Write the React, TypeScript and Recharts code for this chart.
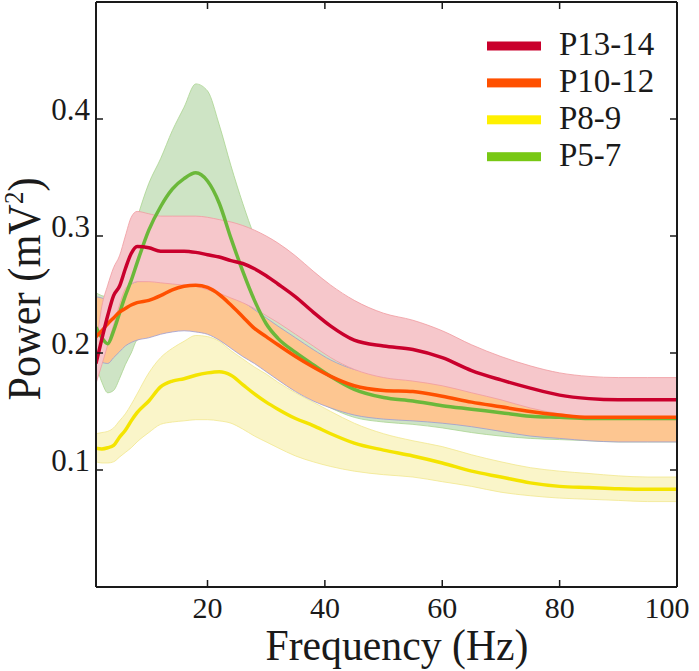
import { Area, ComposedChart, Line, XAxis, YAxis } from "recharts"

const freq = [1, 2, 3, 4, 5, 6, 7, 8, 10, 12, 14, 16, 18, 20, 22, 24, 26, 28, 30, 32, 35, 38, 41, 45, 50, 55, 60, 65, 70, 75, 80, 85, 90, 95, 100]

// P13-14
const p13Mean = [0.191, 0.212, 0.232, 0.249, 0.257, 0.272, 0.285, 0.291, 0.29, 0.287, 0.287, 0.287, 0.286, 0.284, 0.282, 0.279, 0.2765, 0.272, 0.266, 0.259, 0.248, 0.235, 0.223, 0.211, 0.206, 0.203, 0.196, 0.185, 0.177, 0.17, 0.164, 0.161, 0.16, 0.16, 0.16]
const p13Upper = [0.205, 0.24, 0.258, 0.273, 0.283, 0.3, 0.316, 0.321, 0.319, 0.317, 0.317, 0.317, 0.317, 0.316, 0.314, 0.312, 0.309, 0.305, 0.3, 0.294, 0.283, 0.27, 0.258, 0.245, 0.234, 0.228, 0.219, 0.207, 0.197, 0.189, 0.183, 0.18, 0.179, 0.179, 0.179]
const p13Lower = [0.174, 0.19, 0.207, 0.224, 0.241, 0.255, 0.259, 0.261, 0.261, 0.26, 0.259, 0.258, 0.257, 0.254, 0.251, 0.247, 0.243, 0.238, 0.232, 0.226, 0.216, 0.206, 0.196, 0.186, 0.179, 0.176, 0.172, 0.166, 0.16, 0.153, 0.148, 0.145, 0.144, 0.143, 0.143]

// P10-12
const p10Mean = [0.214, 0.219, 0.225, 0.23, 0.235, 0.238, 0.241, 0.243, 0.245, 0.249, 0.254, 0.257, 0.258, 0.256, 0.25, 0.241, 0.231, 0.221, 0.214, 0.207, 0.197, 0.188, 0.18, 0.172, 0.168, 0.167, 0.163, 0.158, 0.154, 0.15, 0.147, 0.145, 0.145, 0.145, 0.145]
const p10Upper = [0.248, 0.247, 0.245, 0.248, 0.252, 0.256, 0.259, 0.261, 0.262, 0.263, 0.263, 0.263, 0.262, 0.259, 0.255, 0.25, 0.244, 0.237, 0.23, 0.223, 0.213, 0.203, 0.194, 0.186, 0.182, 0.18, 0.177, 0.172, 0.168, 0.165, 0.163, 0.162, 0.162, 0.162, 0.162]
const p10Lower = [0.194, 0.192, 0.191, 0.196, 0.201, 0.206, 0.209, 0.211, 0.213, 0.216, 0.218, 0.219, 0.218, 0.216, 0.211, 0.204, 0.197, 0.191, 0.184, 0.177, 0.167, 0.159, 0.153, 0.147, 0.1435, 0.142, 0.14, 0.137, 0.133, 0.129, 0.127, 0.125, 0.124, 0.124, 0.124]

// P8-9
const p8Mean = [0.1185, 0.118, 0.119, 0.121, 0.128, 0.134, 0.142, 0.149, 0.159, 0.171, 0.176, 0.178, 0.181, 0.183, 0.184, 0.181, 0.173, 0.165, 0.158, 0.152, 0.144, 0.138, 0.131, 0.123, 0.117, 0.112, 0.106, 0.099, 0.094, 0.089, 0.086, 0.085, 0.084, 0.0835, 0.0835]
const p8Upper = [0.131, 0.132, 0.133, 0.136, 0.142, 0.148, 0.156, 0.165, 0.183, 0.196, 0.204, 0.21, 0.215, 0.214, 0.21, 0.202, 0.195, 0.188, 0.182, 0.175, 0.166, 0.158, 0.15, 0.14, 0.131, 0.125, 0.12, 0.113, 0.107, 0.102, 0.099, 0.097, 0.095, 0.094, 0.094]
const p8Lower = [0.107, 0.106, 0.106, 0.107, 0.111, 0.115, 0.119, 0.124, 0.132, 0.139, 0.141, 0.142, 0.143, 0.143, 0.142, 0.14, 0.135, 0.129, 0.124, 0.119, 0.112, 0.107, 0.103, 0.099, 0.096, 0.094, 0.09, 0.086, 0.081, 0.078, 0.076, 0.075, 0.074, 0.073, 0.073]

// P5-7
const p5Mean = [0.222, 0.213, 0.208, 0.219, 0.234, 0.249, 0.262, 0.277, 0.305, 0.325, 0.34, 0.349, 0.354, 0.347, 0.328, 0.298, 0.27, 0.245, 0.225, 0.2125, 0.2005, 0.19, 0.18, 0.169, 0.162, 0.159, 0.155, 0.152, 0.149, 0.146, 0.145, 0.144, 0.144, 0.144, 0.144]
const p5Upper = [0.2515, 0.249, 0.248, 0.262, 0.275, 0.286, 0.298, 0.315, 0.345, 0.366, 0.39, 0.41, 0.43, 0.424, 0.395, 0.36, 0.328, 0.3, 0.28, 0.26, 0.24, 0.222, 0.207, 0.193, 0.183, 0.178, 0.172, 0.167, 0.163, 0.16, 0.158, 0.157, 0.157, 0.157, 0.157]
const p5Lower = [0.19, 0.175, 0.166, 0.168, 0.178, 0.19, 0.2, 0.211, 0.215, 0.218, 0.22, 0.221, 0.22, 0.218, 0.213, 0.206, 0.199, 0.193, 0.186, 0.179, 0.169, 0.161, 0.153, 0.145, 0.141, 0.139, 0.136, 0.132, 0.129, 0.127, 0.126, 0.125, 0.124, 0.124, 0.124]

const xTicks = [20, 40, 60, 80, 100]
const yTicks = [0.1, 0.2, 0.3, 0.4]

const data = freq.map((f, i) => ({
  f,
  p13: p13Mean[i],
  p13Band: [p13Lower[i], p13Upper[i]],
  p10: p10Mean[i],
  p10Band: [p10Lower[i], p10Upper[i]],
  p8: p8Mean[i],
  p8Band: [p8Lower[i], p8Upper[i]],
  p5: p5Mean[i],
  p5Band: [p5Lower[i], p5Upper[i]],
}))

const legendItems = [
  { name: "P13-14", color: "#c9002c" },
  { name: "P10-12", color: "#ff5000" },
  { name: "P8-9", color: "#fff000" },
  { name: "P5-7", color: "#78c814" },
]

const serif = "'Liberation Serif', 'Times New Roman', serif"
const ink = "#1a1a1a"

function BottomTick({ x, y, payload }: any) {
  const dx = payload.value === 100 ? -10 : 0
  return (
    <g>
      <line x1={x} x2={x} y1={y} y2={y - 7} stroke={ink} strokeWidth={1.5} />
      <text x={x + dx} y={y + 31} textAnchor="middle" fontSize={30} fontFamily={serif} fill={ink}>
        {payload.value}
      </text>
    </g>
  )
}

function TopTick({ x, y }: any) {
  return <line x1={x} x2={x} y1={y} y2={y + 7} stroke={ink} strokeWidth={1.5} />
}

function LeftTick({ x, y, payload }: any) {
  return (
    <g>
      <line x1={x} x2={x + 7} y1={y} y2={y} stroke={ink} strokeWidth={1.5} />
      <text x={x - 6} y={y + 1} textAnchor="end" fontSize={31} fontFamily={serif} fill={ink}>
        {payload.value.toFixed(1)}
      </text>
    </g>
  )
}

function RightTick({ x, y }: any) {
  return <line x1={x} x2={x - 7} y1={y} y2={y} stroke={ink} strokeWidth={1.5} />
}

const axisLine = { stroke: ink, strokeWidth: 2 }

export default function App() {
  return (
    <div style={{ position: "absolute", left: 0, top: 0, width: 699, height: 671, background: "#fff" }}>
      <ComposedChart width={699} height={671} data={data} margin={{ top: 1, right: 21, bottom: 0, left: 0 }}>
        <XAxis
          dataKey="f"
          type="number"
          domain={[1, 100]}
          ticks={xTicks}
          interval={0}
          height={84}
          tickSize={0}
          tickMargin={0}
          tickLine={false}
          axisLine={axisLine}
          tick={<BottomTick />}
          allowDataOverflow
        />
        <XAxis
          xAxisId="top"
          dataKey="f"
          orientation="top"
          type="number"
          domain={[1, 100]}
          ticks={xTicks}
          interval={0}
          height={1}
          tickSize={0}
          tickMargin={0}
          tickLine={false}
          axisLine={axisLine}
          tick={<TopTick />}
          allowDataOverflow
        />
        <YAxis
          type="number"
          domain={[0, 0.5]}
          ticks={yTicks}
          interval={0}
          width={96}
          tickSize={0}
          tickMargin={0}
          tickLine={false}
          axisLine={axisLine}
          tick={<LeftTick />}
          allowDataOverflow
        />
        <YAxis
          yAxisId="right"
          orientation="right"
          type="number"
          domain={[0, 0.5]}
          ticks={yTicks}
          interval={0}
          width={1}
          tickSize={0}
          tickMargin={0}
          tickLine={false}
          axisLine={axisLine}
          tick={<RightTick />}
          allowDataOverflow
        />

        <Area dataKey="p8Band" type="monotone" fill="#faf5c9" fillOpacity={1} stroke="#f1e78e" strokeWidth={0.8} isAnimationActive={false} />
        <Area dataKey="p5Band" type="monotone" fill="#cee4c5" fillOpacity={1} stroke="#a9d48f" strokeWidth={0.8} isAnimationActive={false} />
        <Area dataKey="p10Band" type="monotone" fill="#fdc691" fillOpacity={1} stroke="#9c9cd2" strokeWidth={0.8} isAnimationActive={false} />
        <Area dataKey="p13Band" type="monotone" fill="#f6c7cb" fillOpacity={1} stroke="#f09aa0" strokeWidth={0.8} isAnimationActive={false} />

        <Line dataKey="p8" xAxisId="top" yAxisId="right" type="monotone" stroke="#f4e400" strokeWidth={3.5} dot={false} isAnimationActive={false} />
        <Line dataKey="p5" type="monotone" stroke="#6bb83a" strokeWidth={3.5} dot={false} isAnimationActive={false} />
        <Line dataKey="p10" type="monotone" stroke="#ff5000" strokeWidth={3.5} dot={false} isAnimationActive={false} />
        <Line dataKey="p13" type="monotone" stroke="#c9002c" strokeWidth={3.5} dot={false} isAnimationActive={false} />
      </ComposedChart>

      <svg width={699} height={671} style={{ position: "absolute", left: 0, top: 0, pointerEvents: "none" }}>
        <text
          x={397}
          y={660}
          textAnchor="middle"
          fontSize={44}
          fontFamily={serif}
          fill={ink}
          textLength={263}
          lengthAdjust="spacingAndGlyphs"
        >
          Frequency (Hz)
        </text>
        <text
          x={40}
          y={289}
          transform="rotate(-90, 40, 289)"
          textAnchor="middle"
          fontSize={46}
          fontFamily={serif}
          fill={ink}
          textLength={223}
          lengthAdjust="spacingAndGlyphs"
        >
          Power (mV<tspan dy={-17} fontSize={27}>2</tspan>
          <tspan dy={17}>)</tspan>
        </text>
        {legendItems.map((item, i) => {
          const cy = 46 + i * 36.9
          return (
            <g key={item.name}>
              <rect x={487} y={cy - 4.5} width={54} height={9} fill={item.color} />
              <text x={559} y={cy + 9} fontSize={33} fontFamily={serif} fill={ink}>
                {item.name}
              </text>
            </g>
          )
        })}
      </svg>
    </div>
  )
}
